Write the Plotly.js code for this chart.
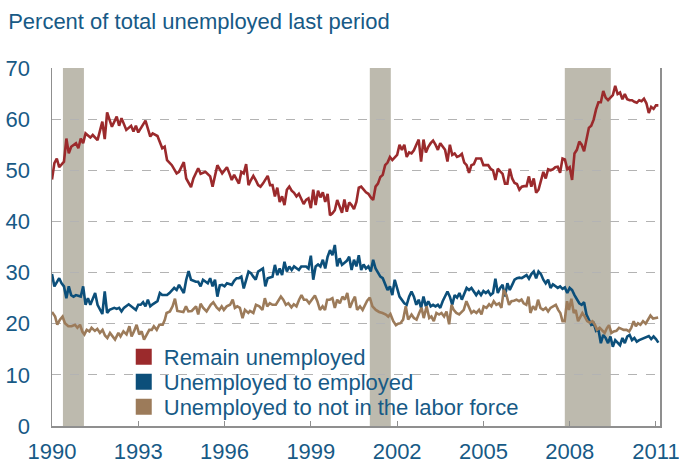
<!DOCTYPE html>
<html>
<head>
<meta charset="utf-8">
<script src="https://cdn.plot.ly/plotly-3.0.1.min.js"></script>
<style>html,body{margin:0;padding:0;background:#fff;}#chart{width:679px;height:465px;}</style>
</head>
<body>
<div id="chart"></div>
<script>
// Months since January 1990 and values (percent of total unemployed last period)
var redMonths = [0,1,2,3,5,6,7,8,10,11,12,13,14,16,17,19,21,22,23,25,27,28,29,31,33,34,35,36,39,41,42,44,46,47,48,50,52,53,55,56,58,59,61,62,64,66,67,69,71,73,
74,75,76,78,79,80,81,82,83,84,85,86,87,88,90,91,92,93,94,95,96,97,98,99,100,101,102,103,105,106,107,108,109,110,111,112,113,114,115,116,117,118,119,120,121,122,123,124,125,126,127,128,129,131,132,133,134,135,136,137,138,139,140,141,142,144,145,146,147,148,149,150,151,152,153,154,155,156,157,158,159,160,161,162,163,164,165,
166,167,168,169,170,171,172,173,174,175,176,177,179,180,181,182,183,184,185,186,187,188,189,190,191,192,193,194,195,196,197,198,199,200,201,202,203,204,205,206,207,208,209,210,211,212,213,214,215,216,217,218,219,220,221,222,223,224,225,226,227,228,229,230,231,232,233,234,235,236,237,238,239,240,241,242,243,244,245,246,247,248,249,250,251,252,253];
var redValues = [48.2,51.4,52.3,50.6,51.7,56.2,53.3,54.6,55.3,54.3,56.2,55.3,57.2,56.4,56.9,55.9,59.5,56.1,61.3,58.5,60.5,58.7,60.2,57.9,58.7,57.6,58.7,57.4,59.7,56.6,57.2,56.7,54.3,54.6,52.0,51.0,49.4,49.7,51.6,48.4,46.7,48.4,50.4,49.3,49.7,48.8,46.8,51.0,49.4,50.6,
49.4,48.1,49.1,47.4,49.7,49.4,51.2,47.1,48.1,48.9,48.1,47.1,46.8,47.4,48.9,47.1,47.1,44.9,46.6,43.8,44.9,43.2,46.2,46.8,46.0,45.6,44.9,45.4,43.4,44.2,44.5,42.6,46.2,43.2,46.0,44.7,45.7,43.8,45.4,41.2,41.6,42.2,44.2,43.0,41.7,44.3,41.9,43.7,43.2,42.4,43.8,46.6,46.8,45.7,45.4,44.7,44.2,46.8,47.4,48.7,49.1,51.0,51.5,52.6,52.0,53.0,55.0,54.0,55.0,52.6,53.5,53.3,53.9,55.0,56.0,51.7,56.0,53.5,54.6,55.3,55.8,55.0,54.0,55.3,54.6,54.0,51.7,
55.0,53.0,53.3,52.6,52.8,53.2,51.5,51.0,49.5,51.0,51.2,52.3,52.3,51.0,51.0,51.0,50.3,50.0,48.1,50.3,49.8,49.3,47.4,47.4,50.3,48.4,47.5,47.3,46.2,46.8,46.9,46.9,48.8,46.8,48.4,45.6,46.2,47.8,49.7,48.4,50.2,50.0,50.2,50.6,50.7,49.5,52.3,52.1,50.2,50.6,48.1,53.3,54.0,55.6,55.0,53.7,56.3,58.3,58.7,59.9,61.9,63.3,63.3,65.5,64.2,63.7,64.2,64.7,66.5,64.9,65.2,63.9,64.9,63.9,63.7,63.7,63.4,63.2,63.7,63.5,64.0,63.1,61.2,62.4,62.0,62.7,62.7];

var blueMonths = [0,1,3,4,5,6,7,8,9,10,12,13,14,15,16,17,18,19,21,22,23,24,26,27,28,29,30,32,33,35,36,37,38,39,40,41,42,44,45,46,48,49,51,52,53,54,55,56,57,58,60,61,62,63,65,66,67,68,69,70,71,72,73,75,76,77,78,79,80,82,
83,84,85,86,88,89,90,92,93,94,95,96,97,98,99,100,101,103,104,106,107,108,109,110,111,112,113,114,115,116,117,118,119,120,121,123,124,125,126,127,128,129,130,131,132,133,134,135,136,137,138,139,140,141,142,143,144,145,147,148,149,150,151,152,153,154,155,156,157,158,159,160,161,162,163,165,
166,167,168,169,170,171,173,174,175,176,177,178,179,180,181,182,183,184,185,186,187,188,189,190,191,192,193,194,195,196,197,198,199,200,201,202,203,204,205,206,207,208,209,210,211,212,213,214,215,216,217,218,219,220,221,222,223,224,225,226,227,228,
229,230,231,232,233,234,235,237,238,239,240,241,242,243,244,245,247,248,249,250,251,252,253];
var blueValues = [29.7,27.3,28.9,27.9,27.3,25.0,27.3,25.6,25.3,25.6,25.3,27.3,23.7,25.0,23.7,24.7,26.0,23.7,21.9,26.3,22.1,22.7,23.1,22.9,23.1,22.4,23.1,23.8,23.4,22.7,23.7,23.7,24.2,23.4,24.7,23.4,23.8,24.4,26.0,25.6,25.6,26.0,27.0,26.6,27.6,26.9,26.0,28.6,30.3,28.6,28.2,28.2,27.3,28.6,27.9,28.9,27.3,28.6,25.3,27.5,27.6,27.3,27.9,27.6,28.4,28.9,28.9,29.2,26.9,30.2,
29.9,29.2,28.6,30.2,30.8,27.3,28.9,29.2,31.5,29.5,30.8,29.5,32.1,30.2,31.2,30.5,31.2,30.5,31.2,31.2,30.8,33.3,28.6,31.2,31.6,31.2,32.5,30.8,33.1,34.4,33.4,35.4,31.2,32.8,31.5,32.3,33.1,30.5,32.5,31.2,33.4,30.5,31.6,30.8,31.2,30.2,32.5,30.8,29.9,29.2,28.9,27.9,26.6,27.3,25.6,28.6,27.0,25.3,24.0,23.7,25.3,26.3,25.3,23.7,24.7,23.1,25.3,23.4,24.4,23.4,23.7,23.4,23.7,23.1,24.4,26.3,
25.3,23.7,25.6,25.1,26.0,24.7,27.0,26.6,27.0,26.3,25.6,26.3,25.6,26.4,26.0,26.4,25.6,26.0,28.8,26.0,27.0,27.6,25.3,27.9,26.6,27.6,28.6,28.9,29.0,28.9,29.2,29.5,28.8,29.7,30.2,28.9,30.2,29.7,28.6,27.9,28.6,27.0,27.7,27.3,27.0,27.3,26.8,27.1,26.0,27.0,26.6,25.6,24.7,24.0,23.7,24.2,21.8,20.8,19.8,20.1,18.6,18.8,
16.2,17.8,17.2,16.2,17.5,15.5,16.8,15.8,17.2,16.2,17.5,17.8,16.8,17.2,16.5,16.8,17.2,17.4,17.6,17.0,17.5,17.0,16.3];

var tanMonths = [0,1.3,2.2,3.3,4.4,5.4,6.8,8.2,9.6,10.6,11.7,12.7,13.5,14.5,15.6,16.5,17.9,18.9,20.0,21.1,22.1,23.1,24.2,25.2,26.3,27.7,28.6,29.8,31.1,32.3,33.2,34.2,35.3,36.4,37.4,38.4,39.5,40.6,41.6,42.5,43.7,44.8,46.2,47.1,47.8,49.2,50.3,51.3,52.3,53.4,54.8,55.9,56.9,58.3,60.1,61.0,62.0,63.1,64.5,66.2,67.3,68.7,69.8,70.8,71.7,72.9,74.3,75.4,76.3,77.3,78.4,79.5,80.5,81.9,
82.6,84.0,85.1,86.5,87.8,88.8,89.8,90.9,92.0,93.4,94.4,95.5,96.5,97.6,98.6,99.9,100.9,102.0,103.1,104.1,105.1,106.2,107.3,108.3,109.7,110.7,111.8,112.9,113.9,114.8,115.9,117.0,118.0,119.0,120.1,121.2,122.2,123.2,124.3,125.4,126.4,127.3,128.5,129.6,130.5,131.5,132.6,133.7,135.1,136.5,137.9,139.3,140.3,141.2,142.4,143.5,144.4,145.4,146.5,147.6,148.6,150.0,151.0,152.1,153.2,154.2,155.1,156.3,157.4,158.3,159.3,160.4,161.5,162.5,163.6,164.6,165.7,
166.7,167.6,168.7,169.9,170.8,171.8,172.9,174.0,175.0,176.0,177.1,178.2,179.2,180.1,181.3,182.4,183.3,184.3,185.4,186.5,187.5,188.5,189.6,190.7,191.7,192.7,193.8,194.9,195.9,196.8,197.9,198.8,199.6,200.7,201.8,202.8,203.8,204.9,206.0,207.0,208.0,209.1,210.2,211.2,212.1,213.0,213.9,214.9,215.7,216.7,217.7,218.5,219.5,220.5,221.3,222.3,223.3,224.4,225.5,226.5,227.4,228.5,229.7,230.6,231.6,232.4,233.4,234.4,235.5,236.6,237.6,238.5,239.7,240.8,241.7,242.7,243.6,244.5,245.5,246.6,247.7,248.7,249.7,250.8,251.9,252.9];
var tanValues = [22.3,21.4,19.8,20.8,21.4,20.1,19.5,19.5,19.8,19.2,19.8,18.4,17.9,18.8,18.5,19.2,18.6,19.0,18.2,18.8,17.7,17.2,18.2,17.5,16.9,18.2,17.5,18.5,17.9,19.5,17.5,18.5,19.8,17.9,18.5,16.9,17.9,18.8,18.8,19.5,18.8,19.8,19.8,20.8,22.1,22.4,23.4,24.9,22.5,22.4,22.3,23.4,22.4,22.5,23.4,21.8,23.9,23.1,22.4,23.7,24.2,23.2,22.7,23.4,22.7,23.4,23.7,24.7,23.1,23.4,23.1,21.1,22.7,22.1,
22.5,22.1,23.7,23.4,22.7,25.0,23.4,24.0,23.7,23.7,24.4,25.3,24.7,23.7,24.0,23.2,23.8,23.4,24.7,25.6,24.7,24.7,24.0,24.7,25.5,24.4,22.7,23.4,22.7,24.7,24.7,25.0,23.1,24.7,24.0,25.3,24.7,26.0,23.1,24.4,25.3,22.7,23.4,22.7,23.7,24.5,25.1,23.4,22.7,22.3,22.1,21.8,21.4,21.9,20.5,19.7,20.0,20.1,20.8,23.4,20.8,21.8,21.1,20.8,22.1,23.1,21.1,23.4,21.1,21.4,20.5,22.1,21.8,22.1,21.4,22.4,19.9,
23.7,22.7,22.1,21.8,22.3,22.7,24.4,23.1,22.1,22.5,22.1,22.7,21.8,23.4,23.1,23.8,23.4,24.4,23.7,24.0,23.1,26.6,25.6,23.7,24.4,24.5,24.7,24.4,24.7,24.0,23.7,25.3,22.1,23.4,22.7,24.7,23.1,22.7,23.1,22.4,23.1,23.4,23.7,22.7,22.1,20.5,20.5,24.4,22.7,24.9,22.1,22.7,20.5,21.4,22.1,21.4,20.5,20.2,20.5,19.8,18.8,19.2,18.6,18.2,19.2,19.7,18.2,18.5,18.6,19.2,19.0,18.8,18.8,18.5,19.2,20.5,19.5,20.1,19.8,20.5,20.0,20.8,21.6,21.0,21.1,21.2];

var seriesNames = ["Remain unemployed", "Unemployed to employed", "Unemployed to not in the labor force"];
var seriesColors = ["#9b2a2c", "#0c4f7a", "#9c7b5a"];
// Recession periods (decimal years)
var recessionStart = [1990.38, 2001.05, 2007.83];
var recessionEnd = [1991.11, 2001.78, 2009.43];
var tickYears = [1990, 1993, 1996, 1999, 2002, 2005, 2008, 2011];

function toYears(months) { return months.map(function (m) { return 1990 + m / 12; }); }

var textColor = "#175a86";
var fontFam = "Liberation Sans, Arial, sans-serif";

var monthSets = [redMonths, blueMonths, tanMonths];
var valueSets = [redValues, blueValues, tanValues];
var legendIds = ["legend", "legend2", "legend3"];
var traces = [];
for (var i = 0; i < 3; i++) {
  traces.push({
    type: "scatter", mode: "lines",
    x: toYears(monthSets[i]), y: valueSets[i],
    line: {color: seriesColors[i], width: 2.6},
    showlegend: false, hoverinfo: "skip"
  });
}
for (var j = 0; j < 3; j++) {
  traces.push({
    type: "scatter", mode: "markers", x: [null], y: [null],
    name: seriesNames[j], legend: legendIds[j],
    marker: {symbol: "square", size: 16, color: seriesColors[j]},
    showlegend: true
  });
}

var shapes = recessionStart.map(function (s, k) {
  return {type: "rect", xref: "x", yref: "paper", x0: s, x1: recessionEnd[k], y0: 0, y1: 1,
          fillcolor: "#bdbaae", line: {width: 0}, layer: "between"};
});

function legendAt(yPaper) {
  return {
    x: 0.118, xanchor: "left", y: yPaper, yanchor: "middle",
    bgcolor: "rgba(0,0,0,0)", borderwidth: 0,
    font: {size: 22, color: textColor, family: fontFam},
    itemwidth: 30
  };
}

var layout = {
  width: 679, height: 465,
  margin: {l: 52, r: 19, t: 68, b: 39},
  paper_bgcolor: "#ffffff", plot_bgcolor: "#ffffff",
  font: {family: fontFam, color: textColor, size: 22},
  title: {text: "Percent of total unemployed last period", font: {family: fontFam, size: 22, color: textColor},
          x: 0.012, xref: "container", xanchor: "left", y: 0.955, yref: "container", yanchor: "middle"},
  xaxis: {
    range: [1990, 2011.14], tickvals: tickYears, ticktext: tickYears.map(String),
    showgrid: false, zeroline: false, showline: true, linecolor: "#8f8f8f", linewidth: 1.5,
    ticks: "inside", ticklen: 5, tickcolor: "#8f8f8f", tickwidth: 1,
    tickfont: {size: 22, color: textColor}, ticklabelstandoff: 5, ticklabeloverflow: "allow"
  },
  yaxis: {
    range: [0, 70], dtick: 10, tick0: 0,
    showgrid: true, gridcolor: "#b3b3b3", griddash: "dash", gridwidth: 1,
    zeroline: false, showline: true, mirror: true, linecolor: "#8f8f8f", linewidth: 1.5,
    ticks: "", tickfont: {size: 22, color: textColor}, ticklabelstandoff: 16
  },
  legend: legendAt(0.1927),
  legend2: legendAt(0.1229),
  legend3: legendAt(0.0531),
  shapes: shapes,
  showlegend: true
};

Plotly.newPlot("chart", traces, layout, {displayModeBar: false, staticPlot: true});
</script>
</body>
</html>
